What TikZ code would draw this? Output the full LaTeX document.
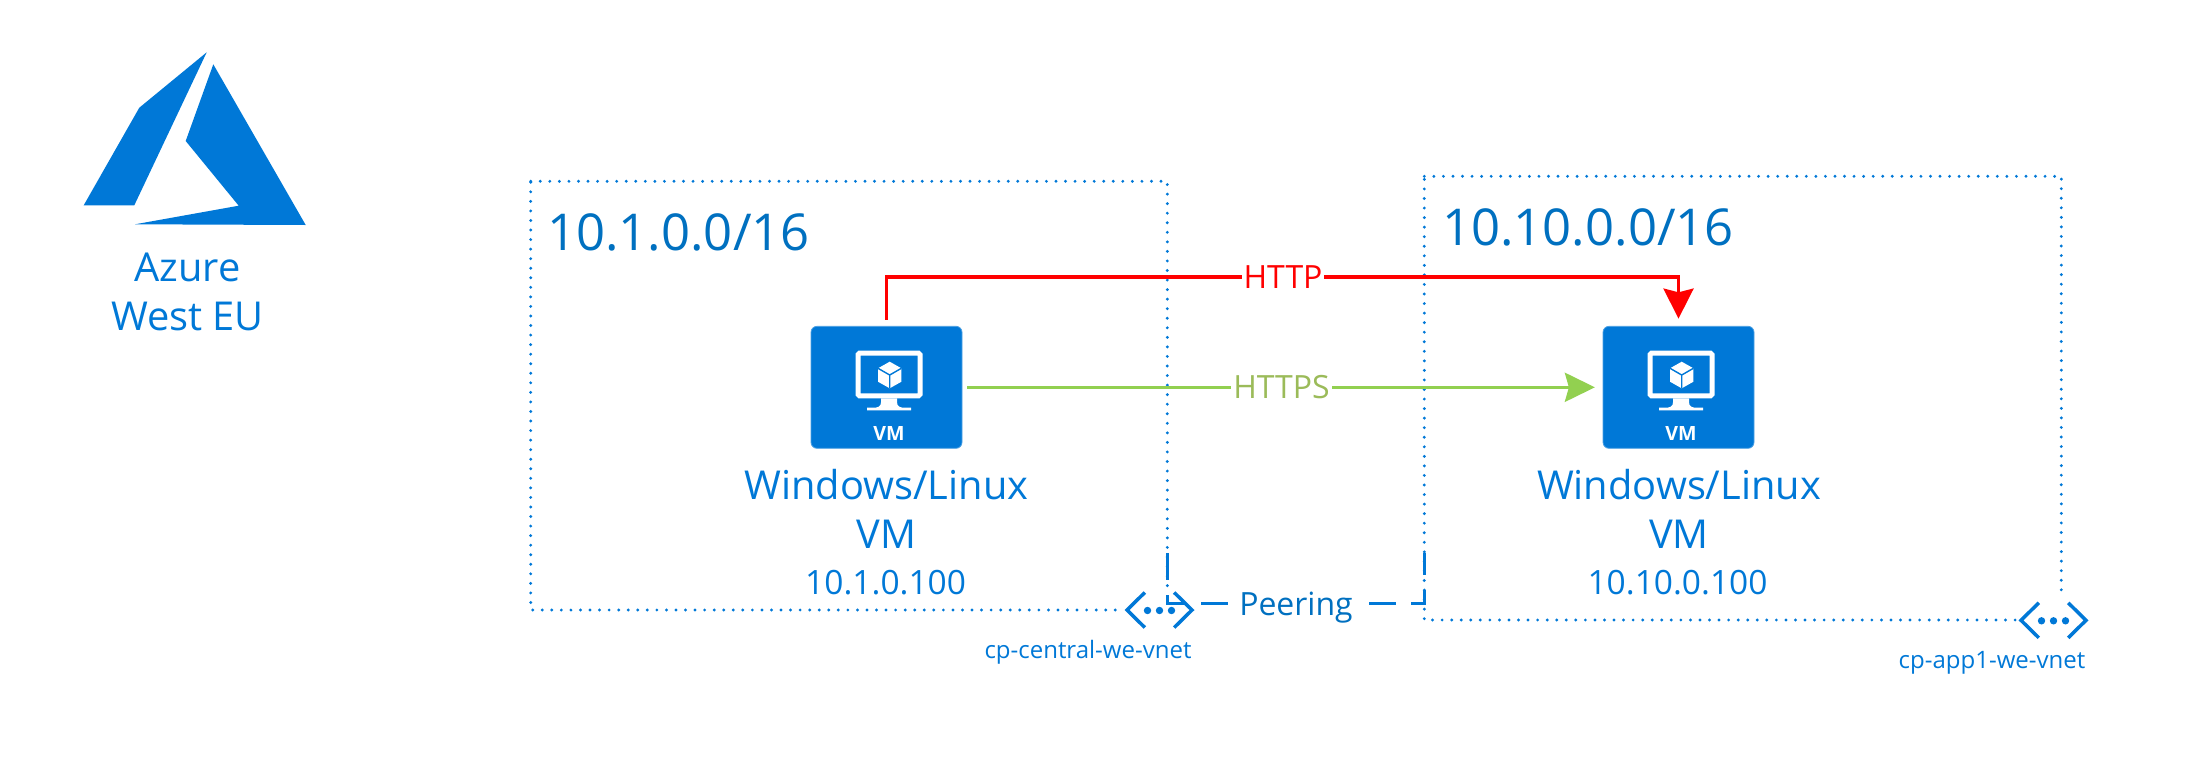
\documentclass[tikz,border=0pt]{standalone}
\usepackage{fontspec}
\setmainfont{Open Sans}
\usetikzlibrary{arrows.meta}
\definecolor{azureblue}{HTML}{0078D7}
\definecolor{rangeblue}{HTML}{0070C0}
\definecolor{httpsgreen}{HTML}{92D050}
\definecolor{httpstext}{HTML}{9BBB59}
\tikzset{
	dotbox/.style={azureblue,line width=3.2pt,line cap=round,dash pattern=on 0pt off 9.55pt},
	vmbox/.style={rectangle,draw=azureblue!70,line width=0.8pt,fill=azureblue,rounded corners=6pt,minimum width=151pt,minimum height=122pt,inner sep=0pt},
	vmlabel/.style={text=azureblue,anchor=base,align=center,inner sep=0pt,font=\fontsize{39.8}{49}\selectfont},
	iplabel/.style={text=azureblue,anchor=base,inner sep=0pt,font=\fontsize{33.5}{36}\selectfont},
	rangelabel/.style={text=rangeblue,anchor=base west,inner sep=0pt,font=\fontsize{50.8}{56}\selectfont},
	vnetlabel/.style={text=azureblue,anchor=base,inner sep=0pt,font=\fontsize{24}{28}\selectfont},
	linelabel/.style={fill=white,inner sep=2pt,font=\fontsize{32}{36}\selectfont},
	httpline/.style={red,line width=3.3pt,-{Stealth[length=30pt,width=30pt,inset=3.7pt]},shorten <=6pt,shorten >=7.3pt},
	httpsline/.style={httpsgreen,line width=3.3pt,-{Stealth[length=30pt,width=29pt,inset=4pt]},shorten <=5pt,shorten >=7.7pt},
	peerline/.style={azureblue,line width=3.3pt,dash pattern=on 27pt off 15pt},
	vmglyph/.pic={
		\draw[white,line width=5pt,rounded corners=1.5pt] (-31,-34.1) rectangle (31,8.5);
		\fill[white] (-8,11) -- (-8,15) .. controls (-8,19) and (-11,20.4) .. (-15,20.4) -- (-22,20.4) -- (-22,23) -- (22,23) -- (22,20.4) -- (15,20.4) .. controls (11,20.4) and (8,19) .. (8,15) -- (8,11) -- cycle;
		\fill[white] (0.7,-25.6) -- (12.4,-19) -- (12.4,-5.6) -- (0.7,1) -- (-11,-5.6) -- (-11,-19) -- cycle;
		\draw[azureblue,line width=1.4pt] (-11,-19) -- (0.7,-12.3) -- (12.4,-19) (0.7,-12.3) -- (0.7,1);
		\node[white,anchor=base,inner sep=0pt,font=\fontsize{19.6}{22}\selectfont\bfseries] (-text) at (0,52.7) {VM};
	},
	vneticon/.pic={
		\draw[azureblue,line width=3.5pt] (-14.7,-17.5) -- (-32.5,0) -- (-14.7,17.5) (14.7,-17.5) -- (32.5,0) -- (14.7,17.5);
		\foreach \i in {-12,0,12}{
			\fill[azureblue] (\i,0.5) circle (3.7pt);
		}
	}
}
\begin{document}
\begin{tikzpicture}[x=1pt,y=-1pt,line join=miter]
	\useasboundingbox (0,0) rectangle (2187,782);
	% logo
	\fill[azureblue] (206.7,52.3) -- (139.3,107.7) -- (83.7,205.3) -- (134.3,205.3) -- cycle;
	\fill[azureblue] (213.3,64.3) -- (185.7,141) -- (238.7,205.7) -- (135,224.3) -- (305.7,225) -- cycle;
	\node[vmlabel] (region) at (187.5,330) {Azure\\West EU};
	% vnets
	\draw[dotbox] (530.7,181.3) -- (1167.3,181.3) -- (1167.3,610) -- (530.7,610) -- cycle;
	\draw[dotbox] (1424.3,176.3) -- (2061.3,176.3) -- (2061.3,620) -- (1424.3,620) -- cycle;
	\node[rangelabel] (range1) at (547,250) {10.1.0.0/16};
	\node[rangelabel] (range2) at (1442,245.7) {10.10.0.0/16};
	\fill[white] (1123,588) rectangle (1196,632);
	\fill[white] (2017,597) rectangle (2091,642);
	% machines
	\node[vmbox] (vm1) at (886.5,387.3) {};
	\node[vmbox] (vm2) at (1678.5,387.3) {};
	\pic at ([xshift=2.5pt]vm1.center) {vmglyph};
	\pic at ([xshift=2.5pt]vm2.center) {vmglyph};
	\node[vmlabel] (name1) at (886.4,548.3) {Windows/Linux\\VM};
	\node[vmlabel] (name2) at (1679,548.3) {Windows/Linux\\VM};
	\node[iplabel] (ip1) at (885.6,594.3) {10.1.0.100};
	\node[iplabel] (ip2) at (1677.5,594.3) {10.10.0.100};
	% traffic
	\coordinate (http) at (1283,277);
	\draw[httpline] (vm1.north) |- (http) -| (vm2.north);
	\node[linelabel,text=red] (httplabel) at (http) {HTTP};
	\draw[httpsline] (vm1.east) -- (vm2.west);
	\node[linelabel,text=httpstext] (httpslabel) at (1281.5,387.3) {HTTPS};
	% peering
	\coordinate (peer1) at (1167.3,553);
	\coordinate (peer2) at (1424.3,553);
	\coordinate (peermid) at (1296,603.3);
	\draw[peerline] (peer1) |- (peermid) -| (peer2);
	\node[linelabel,text=rangeblue,anchor=base,inner sep=1pt] (peerlabel) at (1296,615) {Peering};
	\pic at (1159.5,610) {vneticon};
	\pic at (2053.5,620.3) {vneticon};
	\node[vnetlabel] (vnet1) at (1088,658.3) {cp-central-we-vnet};
	\node[vnetlabel] (vnet2) at (1992,668.3) {cp-app1-we-vnet};
\end{tikzpicture}
\end{document}
